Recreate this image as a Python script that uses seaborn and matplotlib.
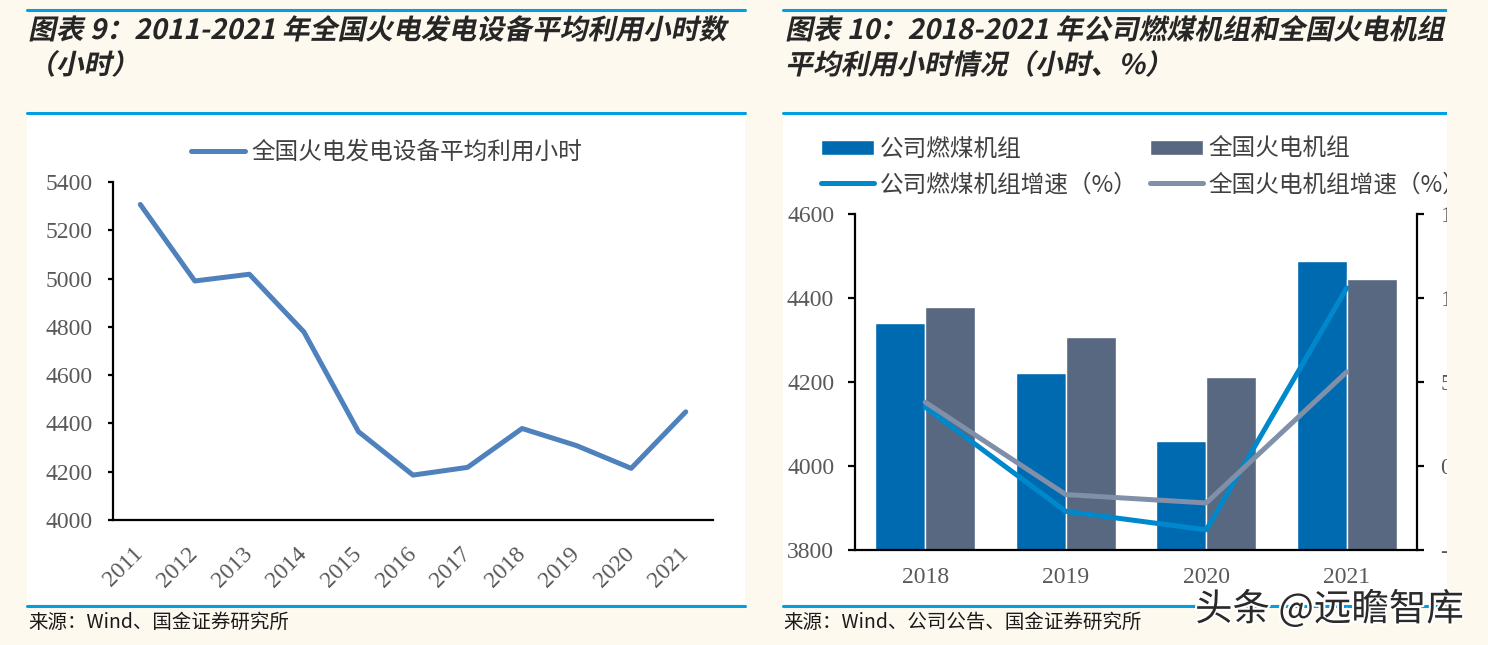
import numpy as np
import pandas as pd
import matplotlib.pyplot as plt
import seaborn as sns
import matplotlib.patheffects as pe
from matplotlib.patches import Rectangle, Patch
from matplotlib.lines import Line2D
from matplotlib.transforms import Affine2D

# chart 9: national thermal power utilisation hours
years_all = ['2011', '2012', '2013', '2014', '2015', '2016', '2017', '2018', '2019', '2020', '2021']
hours_all = [5307, 4990, 5018, 4779, 4366, 4186, 4218, 4379, 4308, 4214, 4448]

# chart 10: company coal units vs national thermal units
years = ['2018', '2019', '2020', '2021']
company_hours = [4341, 4221, 4060, 4488]
national_hours = [4379, 4307, 4212, 4445]
company_growth = [3.5, -2.7, -3.8, 10.6]
national_growth = [3.8, -1.7, -2.2, 5.6]

left_ticks = [4000, 4200, 4400, 4600, 4800, 5000, 5200, 5400]
right_ticks = [3800, 4000, 4200, 4400, 4600]
growth_ticks = [-5, 0, 5, 10, 15]

sns.set_theme(style='white')
plt.rcParams['font.family'] = ['Noto Sans CJK SC', 'DejaVu Sans']
plt.rcParams['axes.unicode_minus'] = False

W, H = 1488, 645
CREAM = '#FEF9EF'
RULE = '#009FE3'
TICKC = '#595959'
SERIF = 'Liberation Serif'

fig = plt.figure(figsize=(W / 100, H / 100), dpi=100)
fig.patch.set_facecolor(CREAM)


def box(x0, y0, x1, y1):
    # pixel box (top-left origin) -> figure fraction rect
    return [x0 / W, 1 - y1 / H, (x1 - x0) / W, (y1 - y0) / H]


class Italic(pe.AbstractPathEffect):
    # fake oblique for the CJK titles
    def draw_path(self, renderer, gc, tpath, affine, rgbFace=None):
        renderer.draw_path(gc, tpath, Affine2D().skew_deg(12, 0) + affine, rgbFace)


# white panels and blue rules
for x0, x1 in [(27, 745), (783, 1447)]:
    fig.add_artist(Rectangle((x0 / W, 1 - 604 / H), (x1 - x0) / W, (604 - 116) / H,
                             transform=fig.transFigure, facecolor='white', edgecolor='none', zorder=-5))
    for y in [10, 113, 606]:
        fig.add_artist(Line2D([x0 / W, x1 / W], [1 - y / H, 1 - y / H], color=RULE, lw=2.2,
                              transform=fig.transFigure, zorder=-4))

# titles
tkw = dict(fontsize=20, fontweight='bold', va='center', path_effects=[Italic()])
fig.text(28 / W, 1 - 31 / H, '图表 9：2011-2021 年全国火电发电设备平均利用小时数', **tkw)
fig.text(28 / W, 1 - 66 / H, '（小时）', **tkw)
fig.text(785 / W, 1 - 31 / H, '图表 10：2018-2021 年公司燃煤机组和全国火电机组', **tkw)
fig.text(785 / W, 1 - 66 / H, '平均利用小时情况（小时、%）', **tkw)

# sources
fig.text(28 / W, 1 - 622 / H, '来源：Wind、国金证券研究所', fontsize=14, va='center', color='#1a1a1a')
fig.text(783 / W, 1 - 622 / H, '来源：Wind、公司公告、国金证券研究所', fontsize=14, va='center', color='#1a1a1a')

# ---- left chart
ax1 = fig.add_axes(box(113, 182, 713, 520))
ax1.set_facecolor('white')
df1 = pd.DataFrame({'year': years_all, 'hours': hours_all})
sns.lineplot(data=df1, x='year', y='hours', ax=ax1, color='#4F81BD', lw=3.6,
             solid_capstyle='round', label='全国火电发电设备平均利用小时')
ax1.set_xlim(-0.5, len(years_all) - 0.5)
ax1.set_ylim(left_ticks[0], left_ticks[-1])
ax1.set_yticks(left_ticks, labels=[str(v) for v in left_ticks], fontfamily=SERIF, fontsize=17, color=TICKC)
ax1.set_xticks(range(len(years_all)), labels=years_all, fontfamily=SERIF, fontsize=17, color=TICKC,
               rotation=45, ha='right', va='center', rotation_mode='anchor')
ax1.set_xlabel('')
ax1.set_ylabel('')
sns.despine(ax=ax1)
for s in ['left', 'bottom']:
    ax1.spines[s].set_color('black')
    ax1.spines[s].set_linewidth(1.6)
ax1.tick_params(axis='y', left=True, direction='out', length=3.6, width=1.6, color='black', pad=11)
ax1.tick_params(axis='x', bottom=False, length=0, pad=22)
ax1.legend(loc='upper left', bbox_to_anchor=(191 / W, 1 - 141 / H), bbox_transform=fig.transFigure,
           frameon=False, fontsize=17, handlelength=2.3, handletextpad=0.25, borderpad=0, borderaxespad=0,
           labelcolor='#404040')

# ---- right chart
ax2 = fig.add_axes(box(855, 214, 1417, 550))
ax2.set_facecolor('white')
df2 = pd.DataFrame({'year': years * 2,
                    'hours': company_hours + national_hours,
                    'type': ['公司燃煤机组'] * len(years) + ['全国火电机组'] * len(years)})
sns.barplot(data=df2, x='year', y='hours', hue='type', palette=['#006AB1', '#586880'], saturation=1,
            width=0.71, gap=0, ax=ax2, legend=False)
ax2.set_xlim(-0.5, len(years) - 0.5)
ax2.set_ylim(right_ticks[0], right_ticks[-1])
ax2.set_yticks(right_ticks, labels=[str(v) for v in right_ticks], fontfamily=SERIF, fontsize=17, color=TICKC)
ax2.set_xticks(range(len(years)), labels=years, fontfamily=SERIF, fontsize=17, color=TICKC)
ax2.set_xlabel('')
ax2.set_ylabel('')

ax3 = ax2.twinx()
pos = np.arange(len(years))
sns.lineplot(x=pos, y=company_growth, ax=ax3, color='#0088CC', lw=3.6, solid_capstyle='round')
sns.lineplot(x=pos, y=national_growth, ax=ax3, color='#8090A8', lw=3.6, solid_capstyle='round')
ax3.set_ylim(growth_ticks[0], growth_ticks[-1])
ax3.set_yticks(growth_ticks, labels=[str(v) for v in growth_ticks], fontfamily=SERIF, fontsize=17, color=TICKC)
ax3.set_xlim(-0.5, len(years) - 0.5)

for s in ['top', 'right']:
    ax2.spines[s].set_visible(False)
for s in ['top', 'left', 'bottom']:
    ax3.spines[s].set_visible(False)
for a, s in [(ax2, 'left'), (ax2, 'bottom'), (ax3, 'right')]:
    a.spines[s].set_color('black')
    a.spines[s].set_linewidth(1.6)
ax2.tick_params(axis='y', left=True, direction='out', length=5, width=1.6, color='black', pad=10)
ax2.tick_params(axis='x', bottom=False, length=0, pad=12)
ax3.tick_params(axis='y', right=True, direction='out', length=5, width=1.6, color='black', pad=12)

handles = [Patch(facecolor='#006AB1'), Line2D([0], [0], color='#0088CC', lw=3.6, solid_capstyle='round'),
           Patch(facecolor='#586880'), Line2D([0], [0], color='#8090A8', lw=3.6, solid_capstyle='round')]
labels = ['公司燃煤机组', '公司燃煤机组增速（%）', '全国火电机组', '全国火电机组增速（%）']
ax3.legend(handles, labels, ncol=2, loc='upper left', bbox_to_anchor=(821 / W, 1 - 138 / H),
           bbox_transform=fig.transFigure, frameon=False, fontsize=17, handlelength=2.25, handleheight=0.6,
           handletextpad=0.25, columnspacing=0.5, labelspacing=0.52, borderpad=0, borderaxespad=0,
           labelcolor='#404040')

# right panel is cut off at its edge in the source
fig.add_artist(Rectangle((1447 / W, 0), (W - 1447) / W, 1, transform=fig.transFigure,
                         facecolor=CREAM, edgecolor='none', zorder=10))

fig.text(1195 / W, 1 - 610 / H, '头条 @远瞻智库', fontsize=27, color='#2a2a2a', va='center', zorder=20,
         path_effects=[pe.withStroke(linewidth=3, foreground='white')])

fig.savefig('out.png', dpi=100, facecolor=fig.get_facecolor())
